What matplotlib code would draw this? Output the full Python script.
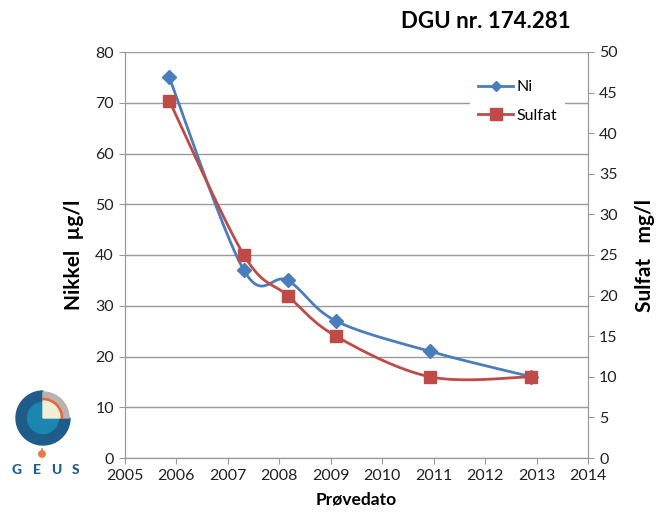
import numpy as np
import matplotlib
matplotlib.use('Agg')
import matplotlib.pyplot as plt
from matplotlib.patches import Wedge, Circle
from matplotlib.ticker import MultipleLocator

plt.rcParams['font.family'] = ['Lato', 'DejaVu Sans']

# ==========================================
# DATA
# ==========================================
sample_dates = [2005.86, 2007.31, 2008.16, 2009.10, 2010.93, 2012.90]
nickel = [75, 37, 35, 27, 21, 16]          # µg/l
sulfat = [44, 25, 20, 15, 10, 10]          # mg/l

TITLE = 'DGU nr. 174.281'

BLUE = '#4A7EBB'
RED = '#BE4B48'
GRID = '#999999'


def smooth(xs, ys, n=40):
    """Spreadsheet-style smoothed line: Catmull-Rom segments as cubic Beziers."""
    pts = np.column_stack([xs, ys]).astype(float)
    out = []
    for i in range(len(pts) - 1):
        p0 = pts[i - 1] if i > 0 else pts[i]
        p1 = pts[i]
        p2 = pts[i + 1]
        p3 = pts[i + 2] if i + 2 < len(pts) else pts[i + 1]
        c1 = p1 + (p2 - p0) / 6.0
        c2 = p2 - (p3 - p1) / 6.0
        t = np.linspace(0, 1, n)[:, None]
        seg = ((1 - t) ** 3) * p1 + 3 * ((1 - t) ** 2) * t * c1 + 3 * (1 - t) * t ** 2 * c2 + t ** 3 * p2
        out.append(seg if i == 0 else seg[1:])
    out = np.vstack(out)
    return out[:, 0], out[:, 1]


W, H = 657, 520
fig = plt.figure(figsize=(W / 100, H / 100), dpi=100)
ax = fig.add_axes([125 / W, 1 - 458 / H, (588 - 125) / W, (458 - 52) / H])
ax2 = ax.twinx()

# Nickel on the left axis
sx, sy = smooth(sample_dates, nickel)
ax.plot(sx, sy, color=BLUE, lw=2.0, zorder=3)
ax.plot(sample_dates, nickel, ls='none', marker='D', ms=7, color=BLUE, zorder=4)

# Sulfat on the right axis
sx, sy = smooth(sample_dates, sulfat)
ax2.plot(sx, sy, color=RED, lw=2.0, zorder=3)
ax2.plot(sample_dates, sulfat, ls='none', marker='s', ms=9, color=RED, zorder=4)

ax.set_xlim(2005, 2014)
ax.set_ylim(0, 80)
ax2.set_ylim(0, 50)
ax.xaxis.set_major_locator(MultipleLocator(1))
ax.yaxis.set_major_locator(MultipleLocator(10))
ax2.yaxis.set_major_locator(MultipleLocator(5))
ax.set_xticklabels([f'{int(v)}' for v in ax.get_xticks()])

ax.grid(axis='y', color=GRID, lw=1.0)
ax.set_axisbelow(True)
for a in (ax, ax2):
    for side in a.spines.values():
        side.set_color(GRID)
    a.spines['top'].set_visible(False)
    a.tick_params(direction='out', length=4, color=GRID, labelsize=11.5, labelcolor='#222222', pad=4)

ax.set_ylabel('Nikkel  µg/l', fontsize=15, fontweight='bold', labelpad=8)
ax2.set_ylabel('Sulfat   mg/l', fontsize=15, fontweight='bold', rotation=90, labelpad=12)
ax.set_xlabel('Prøvedato', fontsize=12.5, fontweight='bold', labelpad=6)

# Legend with its own white box over the grid
h1 = plt.Line2D([], [], color=BLUE, lw=2.0, marker='D', ms=5.5)
h2 = plt.Line2D([], [], color=RED, lw=2.0, marker='s', ms=8)
leg = ax2.legend([h1, h2], ['Ni', 'Sulfat'], loc='upper left',
                 bbox_to_anchor=((462 - 125) / 463, (458 - 64) / 406),
                 frameon=True, fancybox=False, handlelength=2.2, handletextpad=0.2,
                 labelspacing=0.9, fontsize=11.5, borderpad=0.5)
leg.get_frame().set_edgecolor('none')
leg.get_frame().set_facecolor('white')
leg.get_frame().set_alpha(1)

fig.text(486 / W, 1 - 22 / H, TITLE, ha='center', va='center', fontsize=16, fontweight='bold')

# GEUS logo, drawn in pixel coordinates
lg = fig.add_axes([0, 0, 90 / W, 140 / H])
lg.set_xlim(0, 90)
lg.set_ylim(0, 140)
lg.set_aspect('equal')
lg.axis('off')
cx, cy = 43, 102
lg.add_patch(Wedge((cx, cy), 27, 90, 360, width=12, color='#1F5C8A'))
lg.add_patch(Wedge((cx, cy), 15.5, 90, 360, color='#1B86AE'))
lg.add_patch(Wedge((cx, cy), 26, 0, 90, width=7, color='#B9B2AE'))
lg.add_patch(Wedge((cx, cy), 19.5, 0, 90, width=2.5, color='#E2663B'))
lg.add_patch(Wedge((cx, cy), 17, 0, 90, color='#F2EED6'))
lg.add_patch(Circle((42, 66), 3.2, color='#E87945'))
lg.plot([42, 42], [68, 71], color='#E87945', lw=1.2)
for i, ch in enumerate('GEUS'):
    lg.text(17 + i * 19.5, 50, ch, ha='center', va='center', fontsize=10,
            fontweight='black', color='#1F5C8A', family=['Lato', 'DejaVu Sans'])

fig.savefig('out.png', dpi=100)
